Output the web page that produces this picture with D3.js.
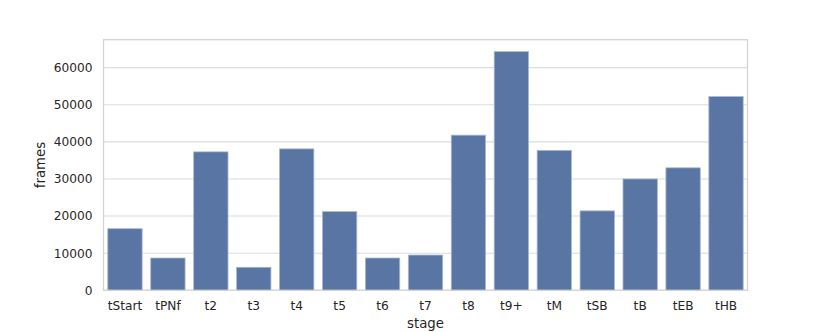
<!DOCTYPE html>
<html>
<head>
<meta charset="utf-8">
<script src="https://cdn.jsdelivr.net/npm/d3@7"></script>
<style>
  body { margin: 0; background: #fff; }
  text { font-family: "DejaVu Sans", sans-serif; fill: #262626; }
</style>
</head>
<body>
<div id="chart"></div>
<script>
// stages on the x axis
const stages = ["tStart", "tPNf", "t2", "t3", "t4", "t5", "t6", "t7", "t8", "t9+", "tM", "tSB", "tB", "tEB", "tHB"];
// frames per stage
const frames = [16600, 8700, 37300, 6200, 38100, 21200, 8700, 9500, 41800, 64300, 37700, 21400, 30000, 33000, 52200];
const yTicks = [0, 10000, 20000, 30000, 40000, 50000, 60000];

const W = 830, H = 332;
const margin = { top: 39.7, right: 82.5, bottom: 41.7, left: 103.5 };
const width = W - margin.left - margin.right;
const height = H - margin.top - margin.bottom;

const data = stages.map((s, i) => ({ stage: s, frames: frames[i] }));

const svg = d3.select("#chart").append("svg")
  .attr("width", W)
  .attr("height", H);

const g = svg.append("g")
  .attr("transform", `translate(${margin.left},${margin.top})`);

const x = d3.scaleBand()
  .domain(stages)
  .range([0, width])
  .paddingInner(0.2)
  .paddingOuter(0.1);

const y = d3.scaleLinear()
  .domain([0, d3.max(frames) * 1.05])
  .range([height, 0]);

// horizontal grid
g.selectAll(".grid")
  .data(yTicks)
  .enter()
  .append("line")
  .attr("class", "grid")
  .attr("x1", 0)
  .attr("x2", width)
  .attr("y1", d => y(d))
  .attr("y2", d => y(d))
  .attr("stroke", "#dcdcdc")
  .attr("stroke-width", 1.1);

// bars
g.selectAll(".bar")
  .data(data)
  .enter()
  .append("rect")
  .attr("class", "bar")
  .attr("x", d => x(d.stage))
  .attr("width", x.bandwidth())
  .attr("y", d => y(d.frames))
  .attr("height", d => height - y(d.frames))
  .attr("fill", "#5975a4")
  .attr("stroke", "#a9b8d2")
  .attr("stroke-width", 0.8);

// frame (spines)
g.append("rect")
  .attr("x", 0)
  .attr("y", 0)
  .attr("width", width)
  .attr("height", height)
  .attr("fill", "none")
  .attr("stroke", "#d4d4d4")
  .attr("stroke-width", 1.3);

// y axis
const yAxis = d3.axisLeft(y).tickValues(yTicks).tickSize(0).tickPadding(11).tickFormat(d3.format("d"));
g.append("g")
  .call(yAxis)
  .call(a => a.select(".domain").remove())
  .selectAll("text")
  .style("font-size", "12.2px")
  .style("font-family", "DejaVu Sans")
  .attr("fill", "#262626");

// x axis
const xAxis = d3.axisBottom(x).tickSize(0).tickPadding(11);
g.append("g")
  .attr("transform", `translate(0,${height})`)
  .call(xAxis)
  .call(a => a.select(".domain").remove())
  .selectAll("text")
  .style("font-size", "12.2px")
  .style("font-family", "DejaVu Sans")
  .attr("fill", "#262626");

// axis labels
svg.append("text")
  .attr("x", margin.left + width / 2)
  .attr("y", 328)
  .attr("text-anchor", "middle")
  .style("font-size", "13.3px")
  .text("stage");

svg.append("text")
  .attr("transform", `translate(45,${margin.top + height / 2}) rotate(-90)`)
  .attr("text-anchor", "middle")
  .style("font-size", "13.3px")
  .text("frames");
</script>
</body>
</html>
